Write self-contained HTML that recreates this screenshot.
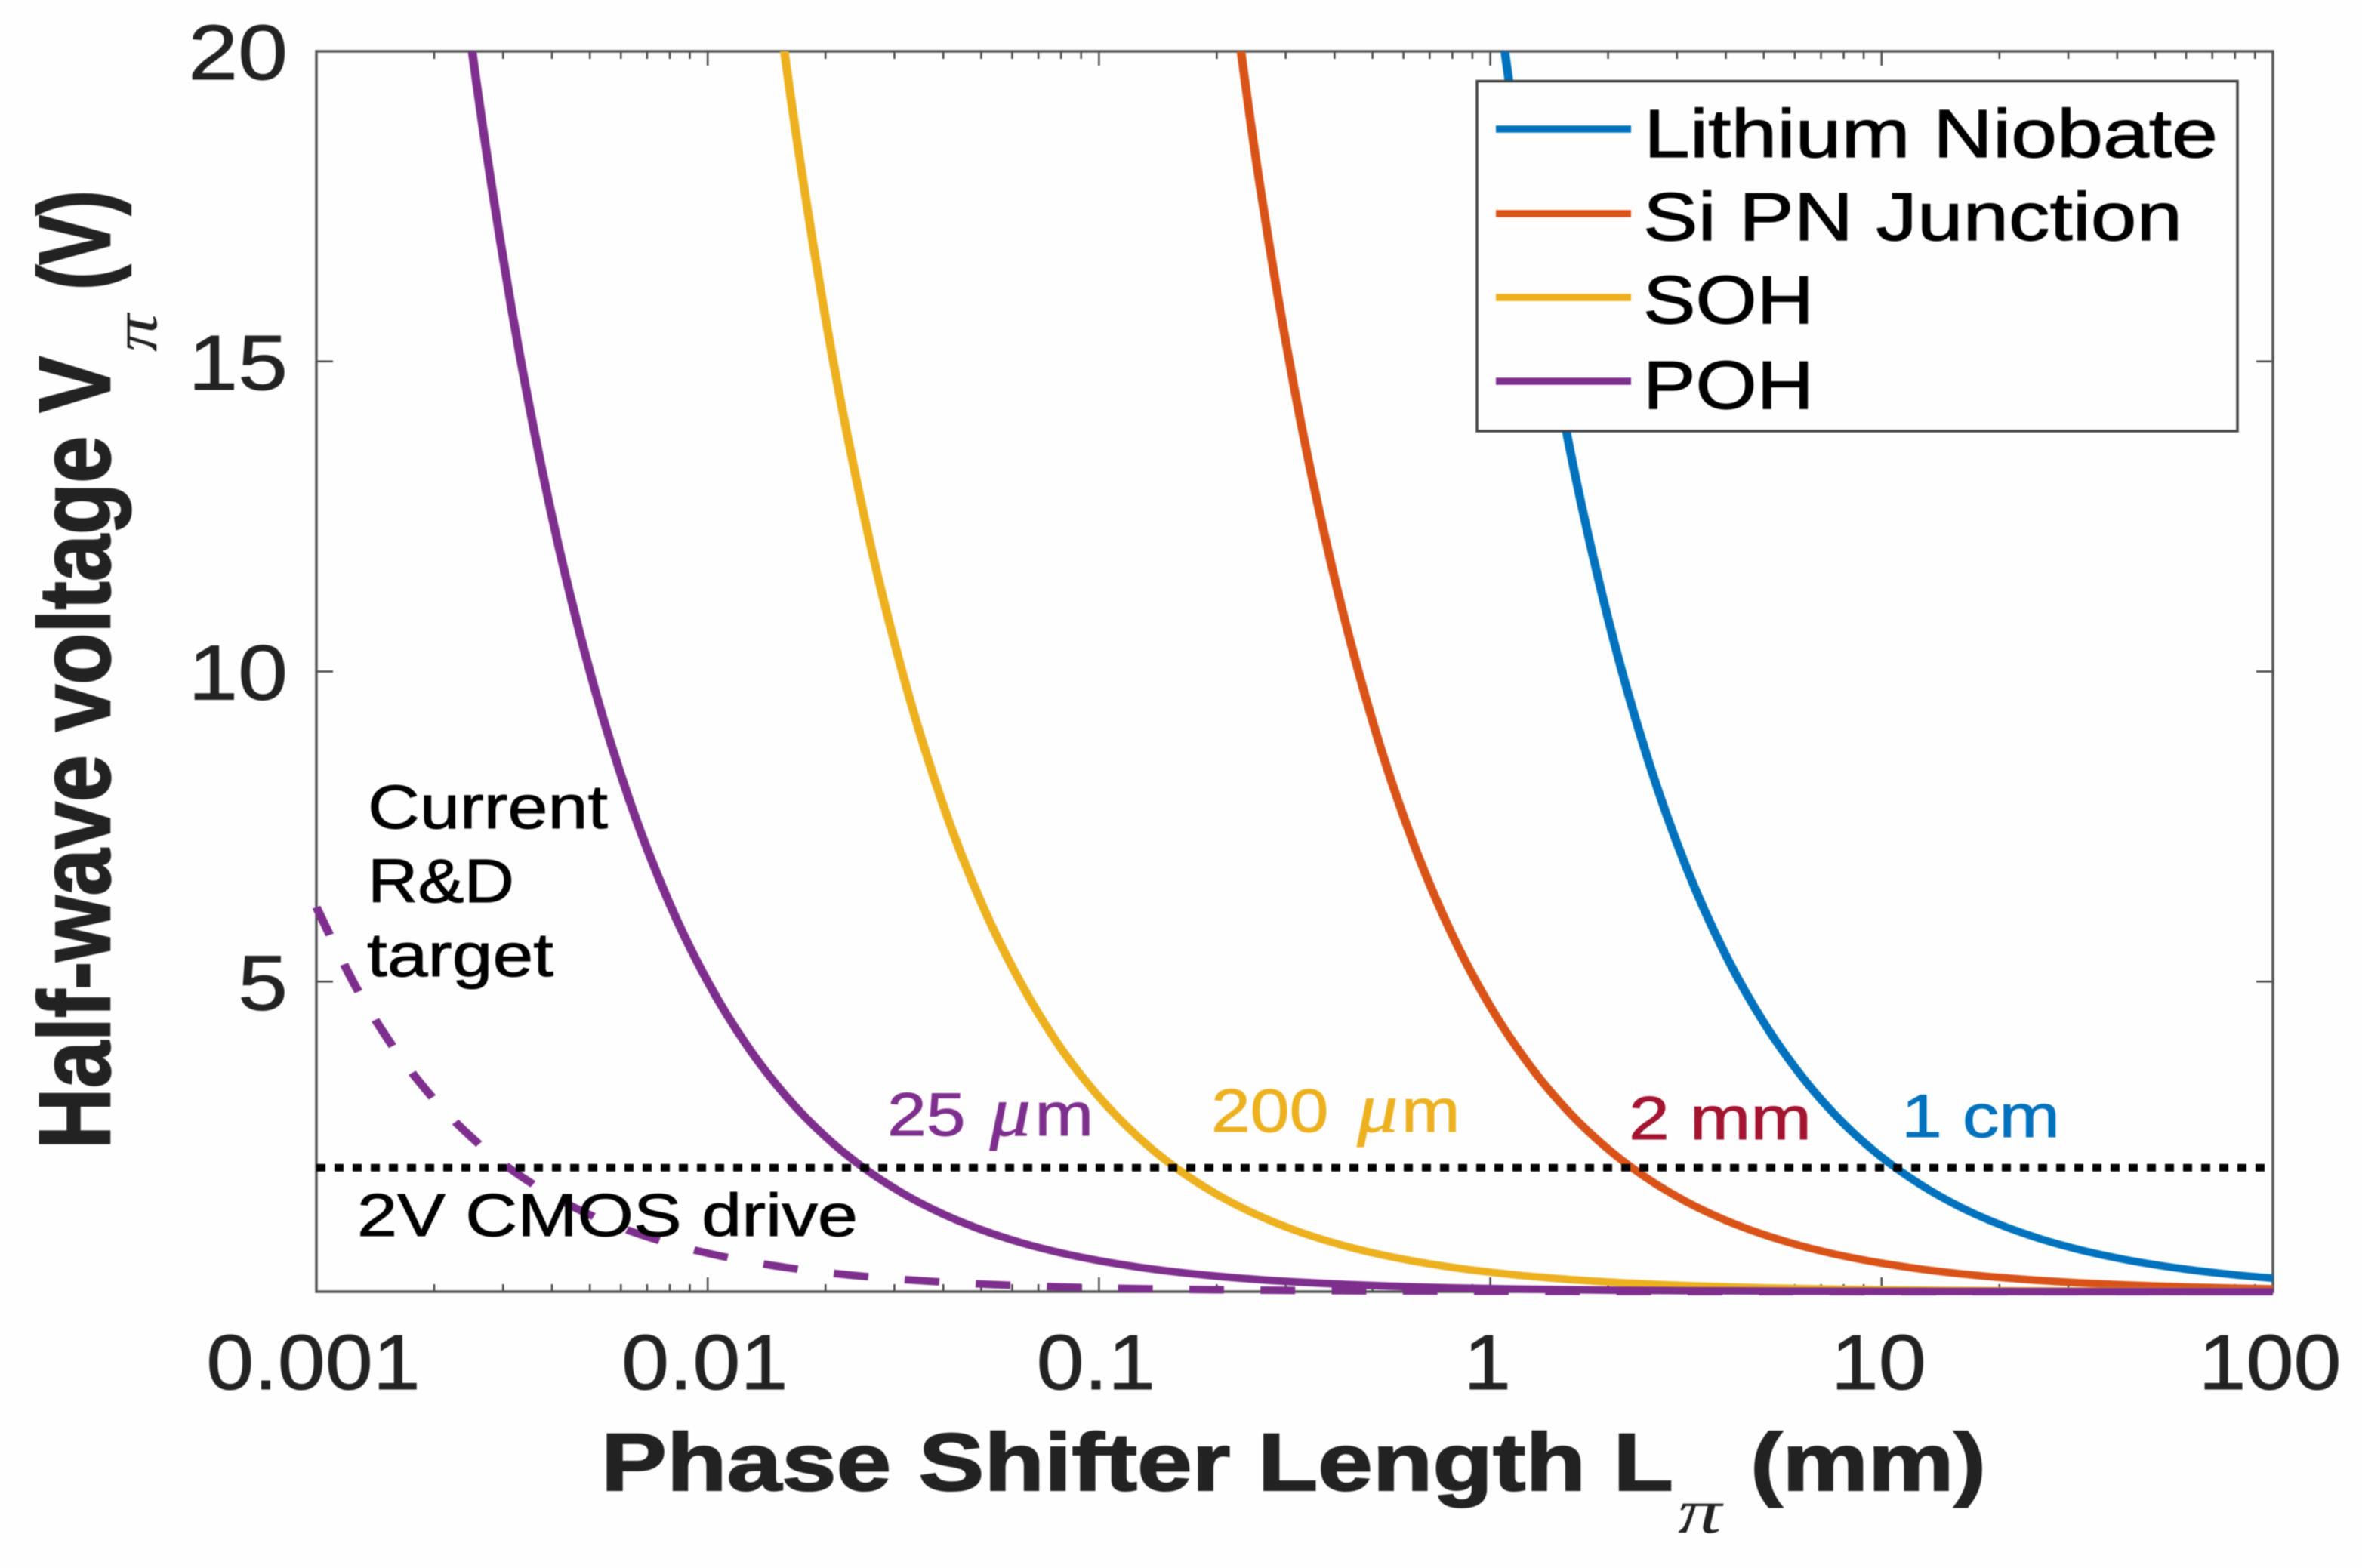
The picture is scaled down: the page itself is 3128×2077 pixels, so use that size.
<!DOCTYPE html>
<html lang="en">
<head>
<meta charset="utf-8">
<title>Half-wave voltage vs phase shifter length</title>
<style>
  html, body { margin: 0; padding: 0; background: #fefefe; }
  svg { display: block; filter: blur(0.8px); }
  text { font-family: "Liberation Sans", Arial, sans-serif; }
  .pi { font-family: "Liberation Serif", "DejaVu Serif", serif; font-style: italic; }
</style>
</head>
<body>
<svg id="chart" xmlns="http://www.w3.org/2000/svg" width="3128" height="2077" viewBox="0 0 3128 2077">
  <defs>
    <clipPath id="plot-clip"><rect x="408" y="68" width="2603" height="1652"></rect></clipPath>
  </defs>
  <rect x="0" y="0" width="3128" height="2077" fill="#fefefe"></rect>
  <g id="ticks"></g>
  <g id="tick-labels"></g>
  <rect x="419" y="68" width="2591" height="1643" fill="none" stroke="#555" stroke-width="3.5"></rect>
  <g id="series" clip-path="url(#plot-clip)"></g>
  <g id="reference"></g>

  <g>
    <rect x="1956" y="107.5" width="1007" height="463.5" fill="#fefefe" stroke="#444" stroke-width="3.5"></rect>
    <line x1="1981" x2="2160" y1="171" y2="171" stroke="#0072BD" stroke-width="9.5"></line>
    <line x1="1981" x2="2160" y1="283" y2="283" stroke="#D95319" stroke-width="9.5"></line>
    <line x1="1981" x2="2160" y1="394" y2="394" stroke="#EDB120" stroke-width="9.5"></line>
    <line x1="1981" x2="2160" y1="505" y2="505" stroke="#7E2F8E" stroke-width="9.5"></line>
    <text x="2177" y="208" font-size="90" fill="#000" stroke="#000" stroke-width="1.2" textLength="760" lengthAdjust="spacingAndGlyphs">Lithium Niobate</text>
    <text x="2176" y="318" font-size="90" fill="#000" stroke="#000" stroke-width="1.2" textLength="714" lengthAdjust="spacingAndGlyphs">Si PN Junction</text>
    <text x="2176" y="428" font-size="90" fill="#000" stroke="#000" stroke-width="1.2" textLength="226" lengthAdjust="spacingAndGlyphs">SOH</text>
    <text x="2176" y="541" font-size="90" fill="#000" stroke="#000" stroke-width="1.2" textLength="226" lengthAdjust="spacingAndGlyphs">POH</text>
  </g>

  <g>
    <text x="487" y="1097" font-size="82" fill="#000" stroke="#000" stroke-width="1" textLength="318" lengthAdjust="spacingAndGlyphs">Current</text>
    <text x="487" y="1195" font-size="82" fill="#000" stroke="#000" stroke-width="1" textLength="194" lengthAdjust="spacingAndGlyphs">R&amp;D</text>
    <text x="486" y="1293" font-size="82" fill="#000" stroke="#000" stroke-width="1" textLength="247" lengthAdjust="spacingAndGlyphs">target</text>
    <text x="473" y="1637" font-size="80" fill="#000" stroke="#000" stroke-width="1" textLength="663" lengthAdjust="spacingAndGlyphs">2V CMOS drive</text>
    <text transform="translate(1175,1504) scale(1.15,1)" font-size="81" fill="#7E2F8E" stroke="#7E2F8E" stroke-width="1">25<tspan class="pi" x="118" font-size="94">&#956;</tspan><tspan x="170">m</tspan></text>
    <text transform="translate(1604,1499) scale(1.15,1)" font-size="81" fill="#EDB120" stroke="#EDB120" stroke-width="1">200<tspan class="pi" x="168" font-size="94">&#956;</tspan><tspan x="219">m</tspan></text>
    <text x="2157" y="1509" font-size="81" fill="#A2142F" stroke="#A2142F" stroke-width="1" textLength="242" lengthAdjust="spacingAndGlyphs">2 mm</text>
    <text x="2518" y="1506" font-size="81" fill="#0072BD" stroke="#0072BD" stroke-width="1" textLength="210" lengthAdjust="spacingAndGlyphs">1 cm</text>
  </g>

  <g>
    <text x="796" y="1974" font-size="108" font-weight="700" fill="#222" stroke="#222" stroke-width="2" textLength="1420" lengthAdjust="spacingAndGlyphs">Phase Shifter Length L</text>
    <text class="pi" x="2222" y="2030" font-size="84" fill="#222" textLength="58" lengthAdjust="spacingAndGlyphs">&#960;</text>
    <text x="2318" y="1974" font-size="108" font-weight="700" fill="#222" stroke="#222" stroke-width="2" textLength="312" lengthAdjust="spacingAndGlyphs">(mm)</text>
  </g>
  <g>
    <text transform="translate(145,1522) rotate(-90)" font-size="134" font-weight="700" fill="#222" stroke="#222" stroke-width="2.5" textLength="1050" lengthAdjust="spacingAndGlyphs">Half-wave voltage V</text>
    <text class="pi" transform="translate(207,466) rotate(-90)" font-size="84" fill="#222" textLength="50" lengthAdjust="spacingAndGlyphs">&#960;</text>
    <text transform="translate(145,384) rotate(-90)" font-size="134" font-weight="700" fill="#222" stroke="#222" stroke-width="2.5" textLength="132" lengthAdjust="spacingAndGlyphs">(V)</text>
  </g>
</svg>

<script>
// Phase shifter length samples (mm), shared by every series
const lengthsMm = [
  0.001, 0.001259, 0.001585, 0.001995, 0.002512, 0.003162, 0.003981, 0.005012, 0.00631, 0.007943,
  0.01, 0.01259, 0.01585, 0.01995, 0.02512, 0.03162, 0.03981, 0.05012, 0.0631, 0.07943,
  0.1, 0.1259, 0.1585, 0.1995, 0.2512, 0.3162, 0.3981, 0.5012, 0.631, 0.7943,
  1, 1.259, 1.585, 1.995, 2.512, 3.162, 3.981, 5.012, 6.31, 7.943,
  10, 12.59, 15.85, 19.95, 25.12, 31.62, 39.81, 50.12, 63.1, 79.43, 100
];

// Half-wave voltage (V) at those lengths; null = above the plot
const lithiumNiobateV = [
  null, null, null, null, null, null, null, null, null, null,
  null, null, null, null, null, null, null, null, null, null,
  null, null, null, null, null, null, null, null, null, null,
  21.7, 17.24, 13.69, 10.88, 8.64, 6.86, 5.45, 4.33, 3.44, 2.73,
  2.17, 1.724, 1.369, 1.088, 0.864, 0.686, 0.545, 0.433, 0.344, 0.273, 0.217
];
const siPnJunctionV = [
  null, null, null, null, null, null, null, null, null, null,
  null, null, null, null, null, null, null, null, null, null,
  null, null, null, 23.05, 18.31, 14.54, 11.56, 9.18, 7.29, 5.79,
  4.6, 3.654, 2.902, 2.306, 1.831, 1.455, 1.155, 0.918, 0.729, 0.579,
  0.46, 0.365, 0.29, 0.231, 0.183, 0.145, 0.115, 0.092, 0.073, 0.058, 0.046
];
const sohV = [
  null, null, null, null, null, null, null, null, null, null,
  31.4, 24.94, 19.81, 15.74, 12.5, 9.93, 7.88, 6.26, 4.98, 3.95,
  3.14, 2.494, 1.981, 1.574, 1.25, 0.993, 0.788, 0.626, 0.498, 0.395,
  0.314, 0.249, 0.198, 0.157, 0.125, 0.099, 0.079, 0.063, 0.05, 0.04,
  0.031, 0.025, 0.02, 0.016, 0.012, 0.01, 0.008, 0.006, 0.005, 0.004, 0.003
];
const pohV = [
  null, null, null, 25.06, 19.91, 15.81, 12.56, 9.976, 7.924, 6.295,
  5.0, 3.972, 3.155, 2.506, 1.991, 1.581, 1.256, 0.998, 0.792, 0.629,
  0.5, 0.397, 0.316, 0.251, 0.199, 0.158, 0.126, 0.1, 0.079, 0.063,
  0.05, 0.04, 0.032, 0.025, 0.02, 0.016, 0.013, 0.01, 0.008, 0.006,
  0.005, 0.004, 0.003, 0.0025, 0.002, 0.0016, 0.0013, 0.001, 0.0008, 0.0006, 0.0005
];
const targetPohV = [
  6.2, 4.925, 3.912, 3.107, 2.468, 1.961, 1.557, 1.237, 0.983, 0.781,
  0.62, 0.492, 0.391, 0.311, 0.247, 0.196, 0.156, 0.124, 0.098, 0.078,
  0.062, 0.049, 0.039, 0.031, 0.025, 0.02, 0.016, 0.012, 0.01, 0.008,
  0.006, 0.005, 0.004, 0.003, 0.0025, 0.002, 0.0016, 0.0012, 0.001, 0.0008,
  0.0006, 0.0005, 0.0004, 0.0003, 0.00025, 0.0002, 0.00016, 0.00012, 0.0001, 0.00008, 0.00006
];
const cmosDriveV = [2];

// Axis ticks and labels
const xTickValues = [0.001, 0.01, 0.1, 1, 10, 100];
const xTickLabels = ['0.001', '0.01', '0.1', '1', '10', '100'];
const minorMultiples = [2, 3, 4, 5, 6, 7, 8, 9];
const yTickValues = [5, 10, 15, 20];
const yTickLabels = ['5', '10', '15', '20'];

const NS = 'http://www.w3.org/2000/svg';
const plot = { left: 419, right: 3010, top: 68, bottom: 1711 };
const xDomain = [0.001, 100];
const yDomain = [0, 20];
// The source figure is stretched horizontally; curves are drawn in unstretched space
const stretchX = 1.15;

function xScale(v) {
  const a = Math.log10(xDomain[0]);
  const b = Math.log10(xDomain[1]);
  return plot.left + (Math.log10(v) - a) / (b - a) * (plot.right - plot.left);
}
function yScale(v) {
  return plot.bottom + (v - yDomain[0]) / (yDomain[1] - yDomain[0]) * (plot.top - plot.bottom);
}

function make(tag, attrs) {
  const el = document.createElementNS(NS, tag);
  for (const k in attrs) el.setAttribute(k, attrs[k]);
  return el;
}

function smoothPath(lengths, values) {
  const pts = [];
  for (let i = 0; i < lengths.length; i++) {
    if (values[i] !== null) pts.push([xScale(lengths[i]) / stretchX, yScale(values[i])]);
  }
  let d = 'M' + pts[0][0].toFixed(2) + ' ' + pts[0][1].toFixed(2);
  for (let i = 0; i < pts.length - 1; i++) {
    const p0 = pts[Math.max(i - 1, 0)];
    const p1 = pts[i];
    const p2 = pts[i + 1];
    const p3 = pts[Math.min(i + 2, pts.length - 1)];
    const c1x = p1[0] + (p2[0] - p0[0]) / 6;
    const c1y = p1[1] + (p2[1] - p0[1]) / 6;
    const c2x = p2[0] - (p3[0] - p1[0]) / 6;
    const c2y = p2[1] - (p3[1] - p1[1]) / 6;
    d += 'C' + c1x.toFixed(2) + ' ' + c1y.toFixed(2) + ' ' + c2x.toFixed(2) + ' ' + c2y.toFixed(2) + ' ' + p2[0].toFixed(2) + ' ' + p2[1].toFixed(2);
  }
  return d;
}

const ticksLayer = document.getElementById('ticks');
const labelsLayer = document.getElementById('tick-labels');
const seriesLayer = document.getElementById('series');
const referenceLayer = document.getElementById('reference');
const tickColor = '#444';
const curveTransform = 'scale(' + stretchX + ',1)';

// X ticks, major and minor, on bottom and top edges
xTickValues.forEach(function (v, i) {
  const x = xScale(v);
  [[plot.bottom, plot.bottom - 19], [plot.top, plot.top + 19]].forEach(function (ends) {
    const tick = make('line', { x1: x, x2: x, y1: ends[0], y2: ends[1], stroke: tickColor, 'stroke-width': 2.5 });
    
    
    ticksLayer.appendChild(tick);
  });
  if (i < xTickValues.length - 1) {
    minorMultiples.forEach(function (m) {
      const mx = xScale(v * m);
      [[plot.bottom, plot.bottom - 10], [plot.top, plot.top + 10]].forEach(function (ends) {
        const minor = make('line', { x1: mx, x2: mx, y1: ends[0], y2: ends[1], stroke: tickColor, 'stroke-width': 2.5 });
        
        
        ticksLayer.appendChild(minor);
      });
    });
  }
  const label = make('text', {
    transform: 'translate(' + (x - 4) + ',1840) scale(1.1,1)',
    'font-size': 103, fill: '#222', stroke: '#222', 'stroke-width': 1, 'text-anchor': 'middle'
  });
  
  
  label.textContent = xTickLabels[i];
  labelsLayer.appendChild(label);
});

// Y ticks on left and right edges
yTickValues.forEach(function (v, i) {
  const y = yScale(v);
  if (v < yDomain[1]) {
    [[plot.left, plot.left + 22], [plot.right, plot.right - 22]].forEach(function (ends) {
      const tick = make('line', { x1: ends[0], x2: ends[1], y1: y, y2: y, stroke: tickColor, 'stroke-width': 2.5 });
      
      
      ticksLayer.appendChild(tick);
    });
  }
  const label = make('text', {
    transform: 'translate(381,' + (y + 37) + ') scale(1.15,1)',
    'font-size': 103, fill: '#222', stroke: '#222', 'stroke-width': 1, 'text-anchor': 'end'
  });
  
  
  label.textContent = yTickLabels[i];
  labelsLayer.appendChild(label);
});

// Curves
const dashedLine = make('path', { d: smoothPath(lengthsMm, targetPohV), transform: curveTransform, fill: 'none', stroke: '#7E2F8E', 'stroke-width': 10, 'stroke-dasharray': '40 42' });


seriesLayer.appendChild(dashedLine);

const lnLine = make('path', { d: smoothPath(lengthsMm, lithiumNiobateV), transform: curveTransform, fill: 'none', stroke: '#0072BD', 'stroke-width': 10 });


seriesLayer.appendChild(lnLine);

const siLine = make('path', { d: smoothPath(lengthsMm, siPnJunctionV), transform: curveTransform, fill: 'none', stroke: '#D95319', 'stroke-width': 10 });


seriesLayer.appendChild(siLine);

const sohLine = make('path', { d: smoothPath(lengthsMm, sohV), transform: curveTransform, fill: 'none', stroke: '#EDB120', 'stroke-width': 10 });


seriesLayer.appendChild(sohLine);

const pohLine = make('path', { d: smoothPath(lengthsMm, pohV), transform: curveTransform, fill: 'none', stroke: '#7E2F8E', 'stroke-width': 10 });


seriesLayer.appendChild(pohLine);

// 2 V CMOS drive reference
const cmosLine = make('line', {
  x1: plot.left, x2: plot.right, y1: yScale(cmosDriveV[0]), y2: yScale(cmosDriveV[0]),
  stroke: '#000', 'stroke-width': 10, 'stroke-dasharray': '12 12'
});


referenceLayer.appendChild(cmosLine);
</script>
</body>
</html>
